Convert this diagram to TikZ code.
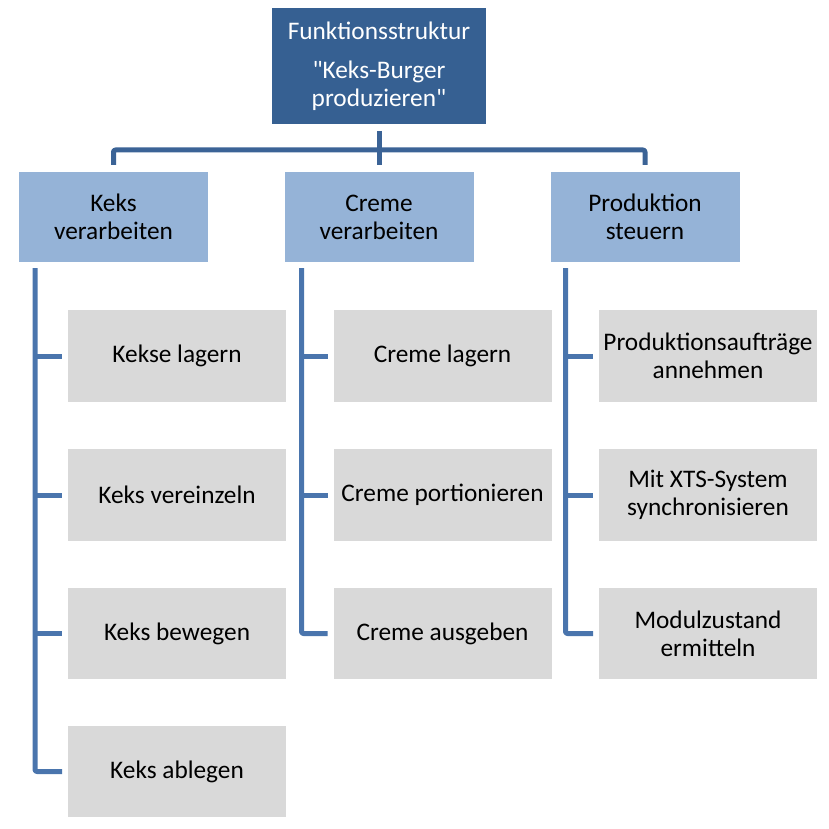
\documentclass[tikz,border=0pt]{standalone}
\usepackage{fontspec}
\setmainfont{Carlito}[Ligatures=TeXOff]
\definecolor{topblue}{HTML}{366092}
\definecolor{midblue}{HTML}{95B3D7}
\definecolor{lgrey}{HTML}{D9D9D9}
\definecolor{conntop}{HTML}{3B6396}
\definecolor{connsub}{HTML}{4A75AD}
\begin{document}
\begin{tikzpicture}[x=1pt,y=-1pt,
  every node/.style={font=\fontsize{25.3}{28}\selectfont, align=center, inner sep=0pt, outer sep=0pt},
  topbox/.style={fill=topblue, text=white, minimum width=214pt, minimum height=116pt},
  midbox/.style={fill=midblue, text=black, minimum width=189pt, minimum height=90pt},
  subbox/.style={fill=lgrey, text=black, minimum width=218pt, minimum height=91.5pt},
  conn1/.style={draw=conntop, line width=5pt, line join=round, rounded corners=2pt},
  conn2/.style={draw=connsub, line width=5pt, line join=round, rounded corners=2pt}]
\useasboundingbox (0,0) rectangle (829,829);
\node[topbox] (top) at (379,66) {Funktionsstruktur\\[11pt]"Keks-Burger\\produzieren"};
\node[midbox] (ma) at (113.5,217) {Keks\\verarbeiten};
\node[midbox] (mb) at (379,217) {Creme\\verarbeiten};
\node[midbox] (mc) at (645,217) {Produktion\\steuern};
% Keks column
\node[subbox] (k1) at (177,356) {Kekse lagern};
\node[subbox] (k2) at (177,495) {Keks vereinzeln};
\node[subbox] (k3) at (177,633.5) {Keks bewegen};
\node[subbox] (k4) at (177,771.5) {Keks ablegen};
% Creme column
\node[subbox] (c1) at (442.5,356) {Creme lagern};
\node[subbox] (c2) at (442.5,495) {Creme portionieren};
\node[subbox] (c3) at (442.5,633.5) {Creme ausgeben};
% Produktion column
\node[subbox] (p1) at (708,356) {Produktionsaufträge\\annehmen};
\node[subbox] (p2) at (708,495) {Mit XTS-System\\synchronisieren};
\node[subbox] (p3) at (708,633.5) {Modulzustand\\ermitteln};
% top connectors
\draw[conn1] ([yshift=7pt]ma.north) -- ++(0,-15) -| ([yshift=7pt]mc.north);
\draw[conn1] ([yshift=-7pt]top.south) -- ([yshift=7pt]mb.north);
% sub connectors
\coordinate (ka) at ([xshift=16pt,yshift=-6pt]ma.south west);
\coordinate (ca) at ([xshift=17pt,yshift=-6pt]mb.south west);
\coordinate (pa) at ([xshift=15pt,yshift=-6pt]mc.south west);
\draw[conn2] (ka) |- ([xshift=-6pt]k4.west);
\draw[conn2] (k1.west -| ka) -- ([xshift=-6pt]k1.west);
\draw[conn2] (k2.west -| ka) -- ([xshift=-6pt]k2.west);
\draw[conn2] (k3.west -| ka) -- ([xshift=-6pt]k3.west);
\draw[conn2] (ca) |- ([xshift=-6pt]c3.west);
\draw[conn2] (c1.west -| ca) -- ([xshift=-6pt]c1.west);
\draw[conn2] (c2.west -| ca) -- ([xshift=-6pt]c2.west);
\draw[conn2] (pa) |- ([xshift=-6pt]p3.west);
\draw[conn2] (p1.west -| pa) -- ([xshift=-6pt]p1.west);
\draw[conn2] (p2.west -| pa) -- ([xshift=-6pt]p2.west);
\end{tikzpicture}
\end{document}
